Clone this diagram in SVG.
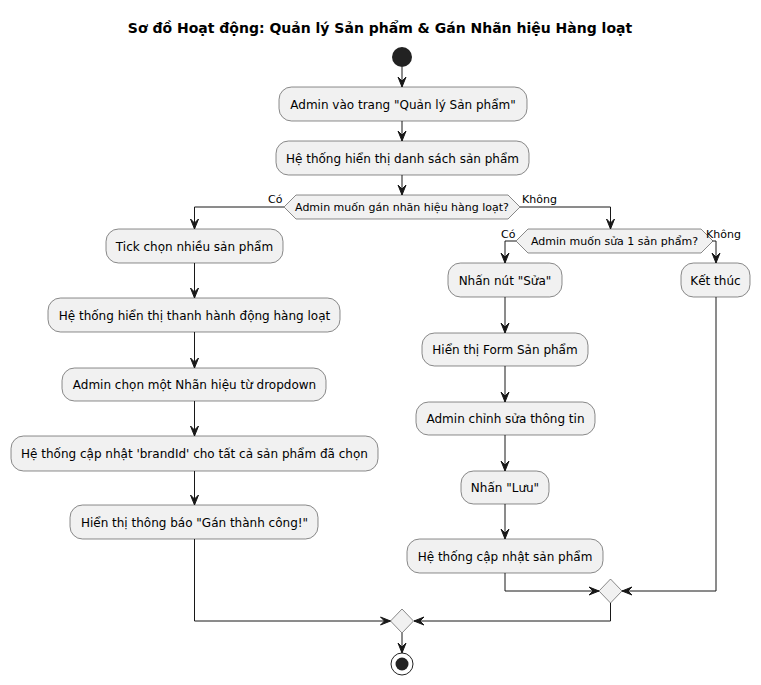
<svg xmlns="http://www.w3.org/2000/svg" width="761" height="685" viewBox="0 0 761 685">
<style>
.box{fill:#F1F1F1;stroke:#181818;stroke-width:0.5}
.t{font-family:"DejaVu Sans",sans-serif;font-size:12px;fill:#000;text-anchor:middle}
.d{font-family:"DejaVu Sans",sans-serif;font-size:11px;fill:#000;text-anchor:middle}
.l{font-family:"DejaVu Sans",sans-serif;font-size:11px;fill:#000}
.ln{fill:none;stroke:#181818;stroke-width:1}
.ah{fill:#181818;stroke:#181818;stroke-width:1}
</style>
<defs>
<polygon id="ad" points="0,0 -4,-10 0,-6 4,-10"/>
<polygon id="ar" points="0,0 -10,-4 -6,0 -10,4"/>
<polygon id="al" points="0,0 10,-4 6,0 10,4"/>
</defs>
<rect width="761" height="685" fill="#FFFFFF"/>
<text x="380" y="33" font-family="DejaVu Sans, sans-serif" font-size="14" font-weight="bold" text-anchor="middle">Sơ đồ Hoạt động: Quản lý Sản phẩm &amp; Gán Nhãn hiệu Hàng loạt</text>

<g id="connectors">
<path class="ln" d="M402,67 V87"/>
<use href="#ad" x="402" y="87" class="ah"/>
<path class="ln" d="M402,121 V141"/>
<use href="#ad" x="402" y="141" class="ah"/>
<path class="ln" d="M402,175 V195"/>
<use href="#ad" x="402" y="195" class="ah"/>
<path class="ln" d="M284,207 H194.5 V229"/>
<use href="#ad" x="194.5" y="229" class="ah"/>
<path class="ln" d="M194.5,263 V298"/>
<use href="#ad" x="194.5" y="298" class="ah"/>
<path class="ln" d="M194.5,332 V368"/>
<use href="#ad" x="194.5" y="368" class="ah"/>
<path class="ln" d="M194.5,401 V436"/>
<use href="#ad" x="194.5" y="436" class="ah"/>
<path class="ln" d="M194.5,471 V505"/>
<use href="#ad" x="194.5" y="505" class="ah"/>
<path class="ln" d="M194.5,539 V621 H390.5"/>
<use href="#ar" x="390.5" y="621" class="ah"/>
<path class="ln" d="M520,207 H610.5 V229"/>
<use href="#ad" x="610.5" y="229" class="ah"/>
<path class="ln" d="M516,241 H505 V263"/>
<use href="#ad" x="505" y="263" class="ah"/>
<path class="ln" d="M705,241 H716 V263"/>
<use href="#ad" x="716" y="263" class="ah"/>
<path class="ln" d="M505,297 V333"/>
<use href="#ad" x="505" y="333" class="ah"/>
<path class="ln" d="M505,366 V402"/>
<use href="#ad" x="505" y="402" class="ah"/>
<path class="ln" d="M505,435 V471"/>
<use href="#ad" x="505" y="471" class="ah"/>
<path class="ln" d="M505,504 V539"/>
<use href="#ad" x="505" y="539" class="ah"/>
<path class="ln" d="M505,573 V591 H599"/>
<use href="#ar" x="599" y="591" class="ah"/>
<path class="ln" d="M716,297 V591 H622"/>
<use href="#al" x="622" y="591" class="ah"/>
<path class="ln" d="M610.5,603 V621 H414"/>
<use href="#al" x="414" y="621" class="ah"/>
<path class="ln" d="M402,633 V653"/>
<use href="#ad" x="402" y="653" class="ah"/>
</g>

<g id="start"><circle cx="402" cy="57" r="10" fill="#222222"/></g>

<g id="n1"><rect class="box" x="279" y="87" width="248" height="34" rx="12.5"/><text class="t" x="403" y="108.5">Admin vào trang "Quản lý Sản phẩm"</text></g>
<g id="n2"><rect class="box" x="276" y="141" width="253" height="34" rx="12.5"/><text class="t" x="402.5" y="162.5">Hệ thống hiển thị danh sách sản phẩm</text></g>

<g id="d1"><polygon class="box" points="284,207 296,195 508,195 520,207 508,219 296,219"/><text class="d" x="402" y="211">Admin muốn gán nhãn hiệu hàng loạt?</text>
<text class="l" x="268" y="203">Có</text><text class="l" x="522" y="203">Không</text></g>

<g id="n3"><rect class="box" x="106" y="229" width="177" height="34" rx="12.5"/><text class="t" x="194.5" y="250.5">Tick chọn nhiều sản phẩm</text></g>
<g id="n4"><rect class="box" x="48" y="298" width="292" height="34" rx="12.5"/><text class="t" x="194.5" y="319.5">Hệ thống hiển thị thanh hành động hàng loạt</text></g>
<g id="n5"><rect class="box" x="62" y="368" width="264" height="33" rx="12.5"/><text class="t" x="194.5" y="389">Admin chọn một Nhãn hiệu từ dropdown</text></g>
<g id="n6"><rect class="box" x="11" y="436" width="367" height="35" rx="12.5"/><text class="t" x="194.5" y="458">Hệ thống cập nhật 'brandId' cho tất cả sản phẩm đã chọn</text></g>
<g id="n7"><rect class="box" x="70" y="505" width="248" height="34" rx="12.5"/><text class="t" x="194.5" y="526.5">Hiển thị thông báo "Gán thành công!"</text></g>

<g id="d2"><polygon class="box" points="516,241 528,229 701,229 713,241 701,253 528,253"/><text class="d" x="614.5" y="245">Admin muốn sửa 1 sản phẩm?</text>
<text class="l" x="501" y="238">Có</text><text class="l" x="706" y="238">Không</text></g>

<g id="n8"><rect class="box" x="448" y="263" width="114" height="34" rx="12.5"/><text class="t" x="505" y="284.5">Nhấn nút "Sửa"</text></g>
<g id="n9"><rect class="box" x="422" y="333" width="166" height="33" rx="12.5"/><text class="t" x="505" y="354">Hiển thị Form Sản phẩm</text></g>
<g id="n10"><rect class="box" x="416" y="402" width="179" height="33" rx="12.5"/><text class="t" x="505.5" y="423">Admin chỉnh sửa thông tin</text></g>
<g id="n11"><rect class="box" x="461" y="471" width="88" height="33" rx="12.5"/><text class="t" x="505" y="492">Nhấn "Lưu"</text></g>
<g id="n12"><rect class="box" x="407" y="539" width="196" height="34" rx="12.5"/><text class="t" x="505" y="560.5">Hệ thống cập nhật sản phẩm</text></g>
<g id="n13"><rect class="box" x="681" y="263" width="69" height="34" rx="12.5"/><text class="t" x="715.5" y="284.5">Kết thúc</text></g>

<g id="m1"><polygon class="box" points="599,591 610.5,579 622,591 610.5,603"/></g>
<g id="m2"><polygon class="box" points="390.5,621 402,609 413.5,621 402,633"/></g>

<g id="stop"><circle cx="402" cy="664" r="11" fill="none" stroke="#222222" stroke-width="1"/><circle cx="402" cy="664" r="6.5" fill="#222222"/></g>
</svg>
